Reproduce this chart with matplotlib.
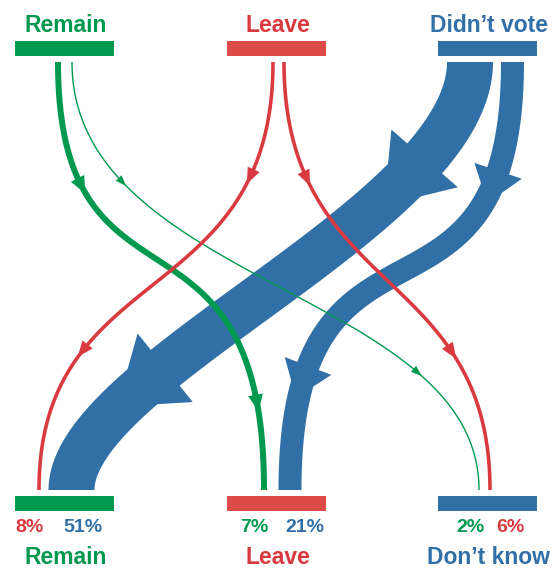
import numpy as np
import matplotlib.pyplot as plt
from matplotlib.patches import Polygon, Rectangle

# --- data ---
top_groups = ["Remain", "Leave", "Didn\u2019t vote"]
bottom_groups = ["Remain", "Leave", "Don\u2019t know"]

# flows from top group to bottom group, share in %
flow_src = [2, 2, 0, 0, 1, 1]
flow_dst = [0, 1, 1, 2, 0, 2]
flow_pct = [51, 21, 7, 2, 8, 6]

# --- style / layout (pixels) ---
W, H = 558, 569
colors = ["#00994f", "#d93a40", "#3170a7"]
bar_colors = ["#00994f", "#dc4b48", "#3170a7"]
bar_cx = [64.5, 276.5, 487.5]
bar_w = 99

flow_x0 = [470, 512.5, 58, 72, 273, 284]      # start x under top bar
flow_x1 = [71.5, 290, 264, 479, 39, 490]      # end x over bottom bar
flow_w = [46, 23, 6, 1.4, 3.6, 3.6]
flow_a = [153, 302, 274, 223, 249, 236]        # bezier handle lengths
flow_b = [119, 314, 311, 199, 232, 225]
arrow_t = [(0.21, 0.685), (0.155, 0.825), (0.21, 0.89),
           (0.22, 0.755), (0.193, 0.724), (0.207, 0.725)]
arrow_wl = [(88, 62, 0.0), (50, 34, 0.0), (15, 17, 0.5),
            (8, 11, 0.5), (13, 16, 0.5), (13, 16, 0.5)]
y0, y1 = 62, 490

# x of each % label under the bottom bars, keyed by (target, source)
label_x = {(0, 1): 29.5, (0, 2): 83, (1, 0): 254, (1, 2): 305,
           (2, 0): 470, (2, 1): 510}


def bezier(x0, x1, a, b, t):
    p0 = np.array([x0, y0]); p1 = np.array([x0, y0 + a])
    p2 = np.array([x1, y1 - b]); p3 = np.array([x1, y1])
    t = np.asarray(t)[:, None]
    pts = (1-t)**3*p0 + 3*(1-t)**2*t*p1 + 3*(1-t)*t**2*p2 + t**3*p3
    d = 3*(1-t)**2*(p1-p0) + 6*(1-t)*t*(p2-p1) + 3*t**2*(p3-p2)
    d = d / np.linalg.norm(d, axis=1)[:, None]
    return pts, d


fig = plt.figure(figsize=(W/100, H/100), dpi=100)
ax = fig.add_axes([0, 0, 1, 1])
ax.set_xlim(0, W)
ax.set_ylim(H, 0)
ax.axis('off')

for i in range(len(flow_pct)):
    col = colors[flow_src[i]]
    z = 2 if flow_src[i] == 2 else 3
    tt = np.linspace(0, 1, 300)
    pts, d = bezier(flow_x0[i], flow_x1[i], flow_a[i], flow_b[i], tt)
    n = np.column_stack([-d[:, 1], d[:, 0]])
    hw = flow_w[i] / 2
    poly = np.vstack([pts + n*hw, (pts - n*hw)[::-1]])
    ax.add_patch(Polygon(poly, closed=True, color=col, lw=0, zorder=z))
    # arrow heads
    aw, al, back = arrow_wl[i]
    p, dd = bezier(flow_x0[i], flow_x1[i], flow_a[i], flow_b[i], arrow_t[i])
    for k in range(2):
        dk = dd[k]
        nk = np.array([-dk[1], dk[0]])
        base = p[k] - dk*al*back
        tri = [base + nk*aw/2, base + dk*al, base - nk*aw/2]
        ax.add_patch(Polygon(tri, closed=True, color=col, lw=0, zorder=z))

title_kw = dict(ha='center', va='center', fontsize=16.5, fontweight='bold',
                family=['Liberation Sans', 'DejaVu Sans'])
for g in range(3):
    ax.add_patch(Rectangle((bar_cx[g]-bar_w/2, 41), bar_w, 14.5, color=bar_colors[g], lw=0))
    ax.add_patch(Rectangle((bar_cx[g]-bar_w/2, 496), bar_w, 15, color=bar_colors[g], lw=0))
    ax.text(bar_cx[g]+1, 25, top_groups[g], color=colors[g], **title_kw)
    ax.text(bar_cx[g]+1, 557, bottom_groups[g], color=colors[g], **title_kw)

for i in range(len(flow_pct)):
    ax.text(label_x[(flow_dst[i], flow_src[i])], 527, f"{flow_pct[i]}%",
            color=colors[flow_src[i]], ha='center', va='center', fontsize=14,
            fontweight='bold', family=['Liberation Sans', 'DejaVu Sans'])

fig.savefig('out.png', dpi=100)
